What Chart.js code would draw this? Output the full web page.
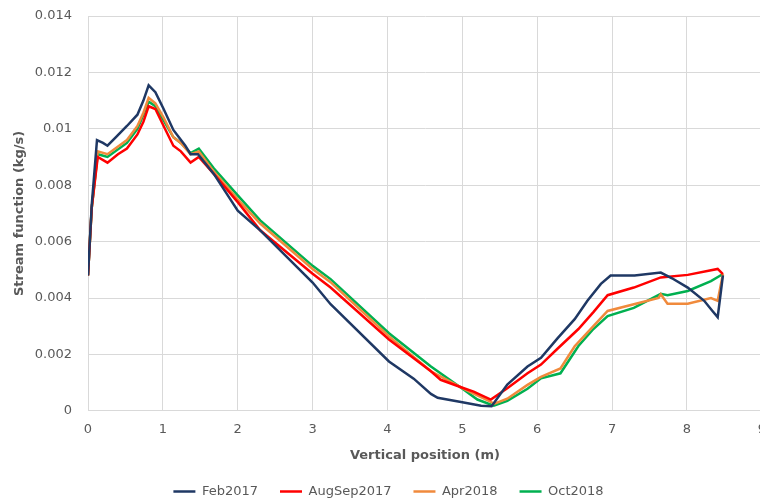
<!doctype html>
<html>
<head>
  <meta charset="utf-8" />
  <title>Stream function</title>
  <script src="https://cdn.jsdelivr.net/npm/chart.js@4"></script>
  <style>
    html, body { margin:0; padding:0; background:#fff; overflow:hidden; }
  </style>
</head>
<body>
 <canvas id="myChart" width="777" height="502"></canvas>

<script>
// vertical position (m) and stream function (kg/s)
const febX = [0, 0.05, 0.12, 0.2, 0.26, 0.37, 0.52, 0.66, 0.74, 0.81, 0.9, 1.01, 1.14, 1.3, 1.37, 1.47, 1.68, 2.0, 2.3, 3.0, 3.24, 4.02, 4.35, 4.58, 4.67, 5.0, 5.25, 5.39, 5.6, 5.87, 6.05, 6.27, 6.5, 6.67, 6.85, 6.98, 7.3, 7.65, 7.8, 8.01, 8.23, 8.34, 8.41, 8.48];
const febY = [0.0048, 0.0073, 0.0096, 0.0095, 0.0094, 0.0097, 0.0101, 0.0105, 0.0110, 0.01154, 0.0113, 0.0107, 0.00996, 0.0094, 0.0091, 0.0091, 0.0084, 0.0071, 0.0064, 0.00455, 0.00378, 0.00175, 0.00114, 0.0006, 0.00046, 0.0003, 0.00018, 0.00016, 0.00093, 0.00157, 0.00188, 0.00257, 0.00325, 0.0039, 0.0045, 0.0048, 0.0048, 0.0049, 0.0047, 0.00437, 0.0039, 0.00354, 0.00332, 0.0048];

const augX = [0, 0.05, 0.13, 0.26, 0.4, 0.52, 0.66, 0.74, 0.81, 0.9, 1.01, 1.14, 1.24, 1.37, 1.48, 1.68, 2.0, 2.3, 3.0, 3.24, 4.02, 4.58, 4.71, 5.02, 5.15, 5.38, 5.6, 5.87, 6.05, 6.27, 6.55, 6.75, 6.94, 7.29, 7.65, 8.01, 8.41, 8.48];
const augY = [0.0048, 0.0072, 0.0090, 0.0088, 0.0091, 0.0093, 0.0098, 0.01025, 0.0108, 0.0107, 0.0101, 0.0094, 0.0092, 0.0088, 0.0090, 0.0084, 0.0074, 0.0064, 0.00486, 0.00437, 0.00253, 0.0014, 0.0011, 0.0008, 0.00068, 0.0004, 0.0008, 0.00133, 0.00164, 0.0022, 0.0029, 0.0035, 0.0041, 0.00437, 0.00473, 0.00482, 0.00503, 0.00485];

const aprX = [0, 0.05, 0.13, 0.26, 0.52, 0.66, 0.74, 0.81, 0.9, 1.01, 1.14, 1.24, 1.37, 1.48, 1.68, 2.0, 2.3, 3.0, 3.24, 4.02, 4.58, 5.02, 5.2, 5.43, 5.6, 5.87, 6.05, 6.31, 6.5, 6.75, 6.94, 7.29, 7.62, 7.65, 7.74, 8.01, 8.32, 8.41, 8.48];
const aprY = [0.0048, 0.0072, 0.0092, 0.0091, 0.0096, 0.0101, 0.01057, 0.0111, 0.0109, 0.0104, 0.0097, 0.0095, 0.0091, 0.0092, 0.00848, 0.0075, 0.00664, 0.00503, 0.00456, 0.00264, 0.0014, 0.00078, 0.00055, 0.00025, 0.00043, 0.00092, 0.0012, 0.0015, 0.00229, 0.003, 0.00354, 0.00378, 0.0040, 0.00413, 0.0038, 0.0038, 0.0040, 0.0039, 0.00485];

const octX = [0, 0.05, 0.13, 0.26, 0.52, 0.66, 0.74, 0.81, 0.9, 1.01, 1.14, 1.24, 1.37, 1.48, 1.68, 2.0, 2.3, 3.0, 3.24, 4.02, 4.58, 5.02, 5.2, 5.42, 5.6, 5.87, 6.05, 6.31, 6.55, 6.75, 6.94, 7.29, 7.65, 7.74, 8.01, 8.32, 8.48];
const octY = [0.0048, 0.0072, 0.0091, 0.0090, 0.0095, 0.0100, 0.0105, 0.01096, 0.0108, 0.0103, 0.0097, 0.0095, 0.00914, 0.0093, 0.0086, 0.00764, 0.00675, 0.00514, 0.00467, 0.00275, 0.00157, 0.00075, 0.0004, 0.00018, 0.00035, 0.00078, 0.00115, 0.00133, 0.0023, 0.0029, 0.00336, 0.00365, 0.00415, 0.0041, 0.00425, 0.0046, 0.00485];

const seriesNames = ["Feb2017", "AugSep2017", "Apr2018", "Oct2018"];
const seriesColors = ["#1F3864", "#FF0000", "#F08A3C", "#00B050"];
const xTicks = [0, 1, 2, 3, 4, 5, 6, 7, 8, 9];
const yTicks = [0, 0.002, 0.004, 0.006, 0.008, 0.01, 0.012, 0.014];

function pts(xs, ys) {
  return xs.map((x, i) => ({x: x, y: ys[i]}));
}
const allX = [febX, augX, aprX, octX];
const allY = [febY, augY, aprY, octY];

const grey = "#595959";
const gridCol = "#D9D9D9";

const ctx = "myChart";
var myChart = new Chart(ctx, {
  type: 'line',
  data: {
    datasets: seriesNames.map((name, i) => ({
      label: name,
      data: pts(allX[i], allY[i]),
      borderColor: seriesColors[i],
      backgroundColor: seriesColors[i],
      borderWidth: 2.5,
      pointRadius: 0,
      pointStyle: 'line',
      tension: 0,
      fill: false
    }))
  },
  options: {
    responsive: false,
    animation: false,
    layout: { padding: { top: 16, left: 0, right: 0, bottom: -6 } },
    plugins: {
      tooltip: { enabled: false },
      legend: {
        position: 'bottom',
        labels: {
          usePointStyle: true,
          pointStyleWidth: 22,
          padding: 22,
          color: grey,
          font: { family: "DejaVu Sans", size: 13 }
        }
      }
    },
    scales: {
      x: {
        type: 'linear',
        min: 0, max: 9,
        afterBuildTicks: (axis) => { axis.ticks = xTicks.map(v => ({value: v})); },
        grid: { color: gridCol, drawTicks: false },
        border: { color: gridCol },
        ticks: { color: grey, padding: 11, font: { family: "DejaVu Sans", size: 13 } },
        title: { display: true, text: "Vertical position (m)", color: grey, padding: { top: -1, bottom: 0 },
                 font: { family: "DejaVu Sans", size: 13, weight: 'bold' } }
      },
      y: {
        min: 0, max: 0.014,
        afterBuildTicks: (axis) => { axis.ticks = yTicks.map(v => ({value: v})); },
        afterFit: (axis) => { axis.width = 88; axis.paddingTop = 8; },
        grid: { color: gridCol, drawTicks: false },
        border: { color: gridCol },
        ticks: { color: grey, padding: 16, font: { family: "DejaVu Sans", size: 13 },
                 callback: (v) => String(Number(v.toFixed(3))) },
        title: { display: true, text: "Stream function (kg/s)", color: grey, padding: { top: 12, bottom: 0 },
                 font: { family: "DejaVu Sans", size: 13, weight: 'bold' } }
      }
    }
  }
});
</script>
</body>
</html>
